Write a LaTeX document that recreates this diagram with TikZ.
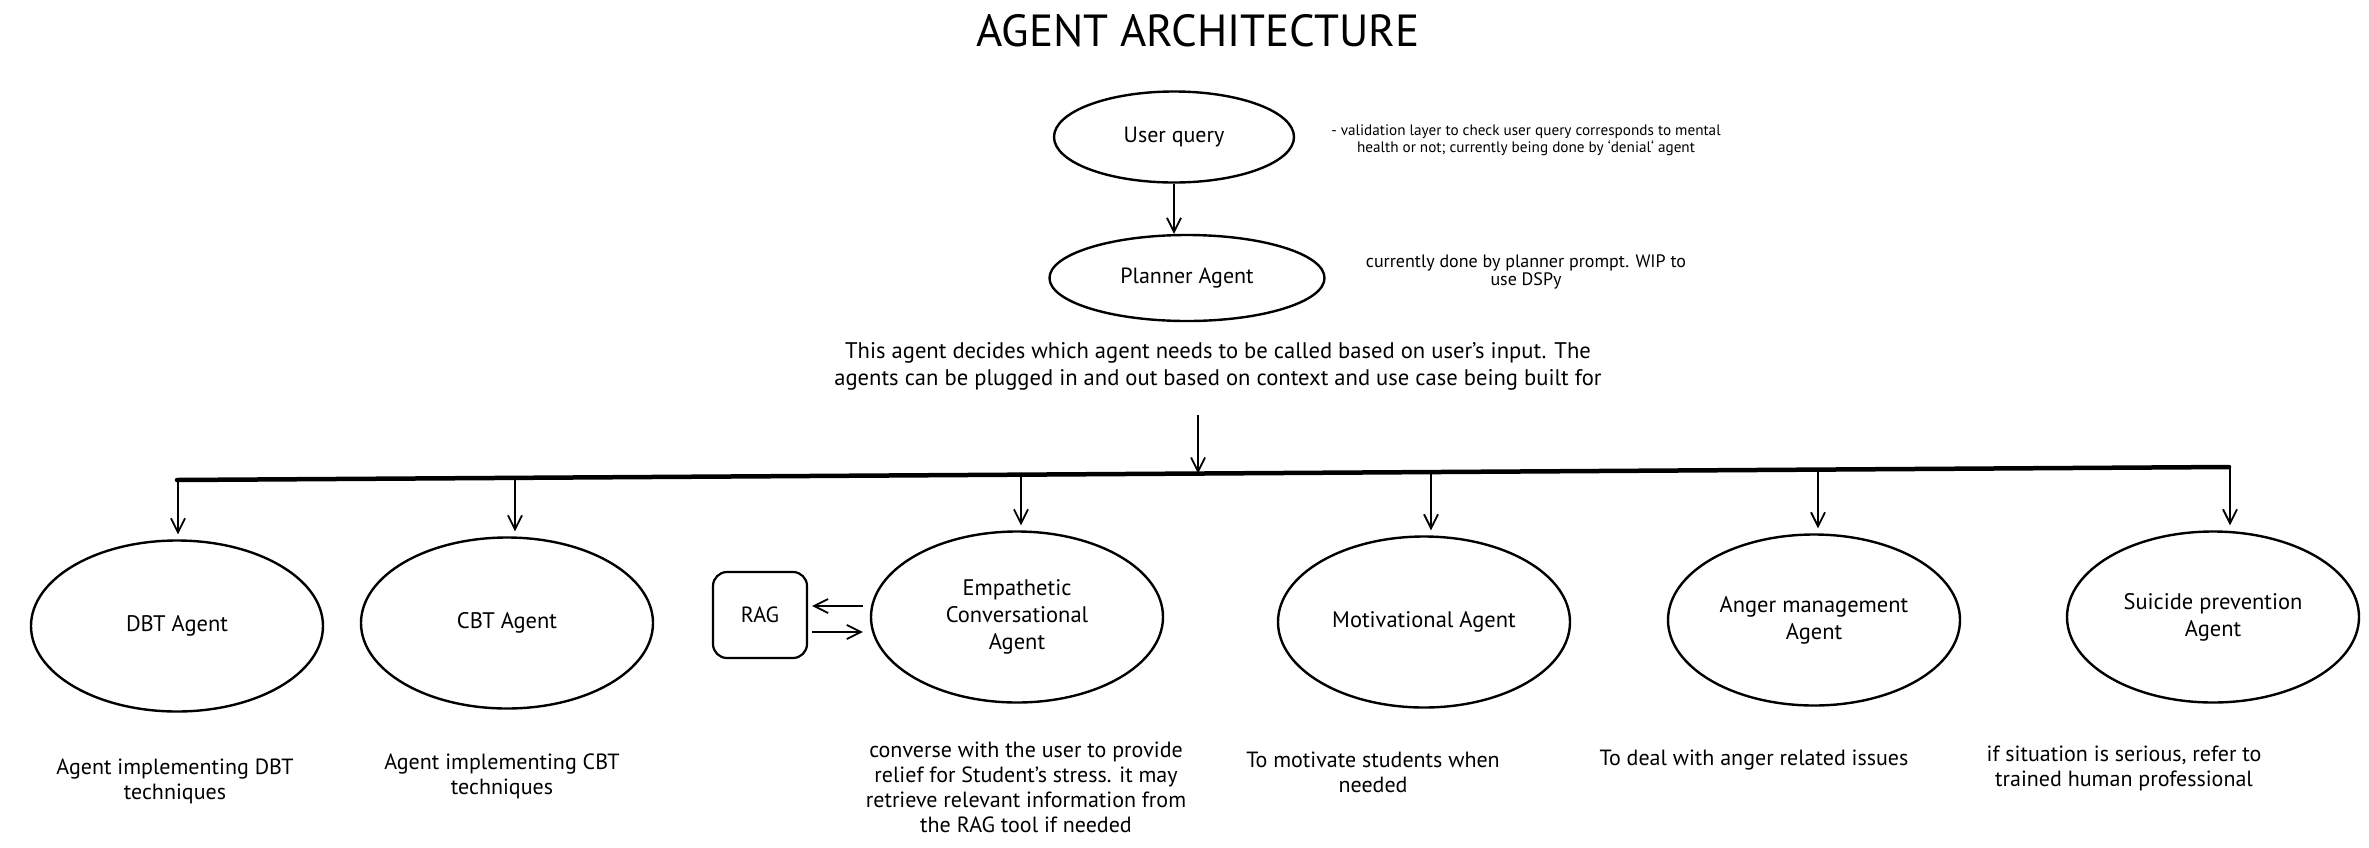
\documentclass[tikz,border=0pt]{standalone}
\usepackage{fontspec}
\setmainfont{PT Sans}
\usetikzlibrary{shapes.geometric,arrows.meta}
\begin{document}
\begin{tikzpicture}[x=1pt,y=-1pt,
  ag/.style={ellipse,draw,line width=2.4pt,minimum width=292pt,minimum height=171pt,inner sep=0pt,align=center,font=\fontsize{22.5}{27}\selectfont},
  top/.style={ellipse,draw,line width=2.4pt,inner sep=0pt,align=center,font=\fontsize{22}{26}\selectfont},
  desc/.style={align=center,font=\fontsize{22}{25}\selectfont},
  note/.style={align=center},
  arr/.style={line width=1.8pt,-{Straight Barb[length=14pt,width=14pt,line width=1.8pt]}},
  bus/.style={line width=4.5pt,line cap=round}]
\useasboundingbox (0,0) rectangle (2369,847);
\node (title) at (1198,31) {\fontsize{45}{48}\selectfont AGENT ARCHITECTURE};

\node[top,minimum width=240pt,minimum height=91pt] (uq) at (1174,137) {User query};
\node[top,minimum width=275pt,minimum height=86pt] (pl) at (1187,278) {Planner Agent};
\node[note,font=\fontsize{15.2}{17}\selectfont] (n1) at (1526,140) {- validation layer to check user query corresponds to mental\\health or not; currently being done by `denial` agent};
\node[note,font=\fontsize{18}{18.5}\selectfont] (n2) at (1526,272) {currently done by planner prompt. WIP to\\use DSPy};
\node[desc,font=\fontsize{22.6}{27}\selectfont] (pd) at (1218,366) {This agent decides which agent needs to be called based on user's input. The\\agents can be plugged in and out based on context and use case being built for};

\draw[arr] (uq.south) -- (uq.south |- pl.north);

\coordinate (bl) at (177,480);
\coordinate (br) at (2229,467);
\coordinate (pin) at (1198,415);
\coordinate (bm) at (1198,473.5);
\draw[bus] (bl) -- (br);
\draw[arr,line width=2.2pt] (pin) -- (bm);

\node[ag] (dbt) at (177,626) {DBT Agent};
\node[ag] (cbt) at (507,623) {CBT Agent};
\node[ag] (emp) at (1017,617) {Empathetic\\Conversational\\Agent};
\node[ag] (mot) at (1424,622) {Motivational Agent};
\node[ag] (ang) at (1814,620) {Anger management\\Agent};
\node[ag] (sui) at (2213,617) {Suicide prevention\\Agent};
\node[draw,line width=2.2pt,rounded corners=14pt,minimum width=94pt,minimum height=86pt,font=\fontsize{22}{26}\selectfont] (rag) at (760,615) {RAG};

\coordinate (b1) at (178,480);
\coordinate (b2) at (515,477.9);
\coordinate (b3) at (1021,474.7);
\coordinate (b4) at (1431,472.1);
\coordinate (b5) at (1818,469.6);
\coordinate (b6) at (2230,467);
\draw[arr] (b1) -- ([yshift=5pt]b1 |- dbt.north);
\draw[arr] (b2) -- ([yshift=5pt]b2 |- cbt.north);
\draw[arr] (b3) -- ([yshift=5pt]b3 |- emp.north);
\draw[arr] (b4) -- ([yshift=5pt]b4 |- mot.north);
\draw[arr] (b5) -- ([yshift=5pt]b5 |- ang.north);
\draw[arr] (b6) -- ([yshift=5pt]b6 |- sui.north);

\draw[arr,line width=2.6pt] ([xshift=-7pt,yshift=11pt]emp.west) -- ([xshift=4pt,yshift=11pt]emp.west -| rag.east);
\draw[arr] ([xshift=4pt,yshift=-15pt]emp.west -| rag.east) -- ([xshift=-7pt,yshift=-15pt]emp.west);

\node[desc] (d1) at (175,781) {Agent implementing DBT\\techniques};
\node[desc] (d2) at (502,776) {Agent implementing CBT\\techniques};
\node[desc] (d3) at (1026,787) {converse with the user to provide\\relief for Student's stress. it may\\retrieve relevant information from\\the RAG tool if needed};
\node[desc] (d4) at (1373,772) {To motivate students when\\needed};
\node[desc] (d5) at (1754,760) {To deal with anger related issues};
\node[desc] (d6) at (2124,768) {if situation is serious, refer to\\trained human professional};
\end{tikzpicture}
\end{document}
